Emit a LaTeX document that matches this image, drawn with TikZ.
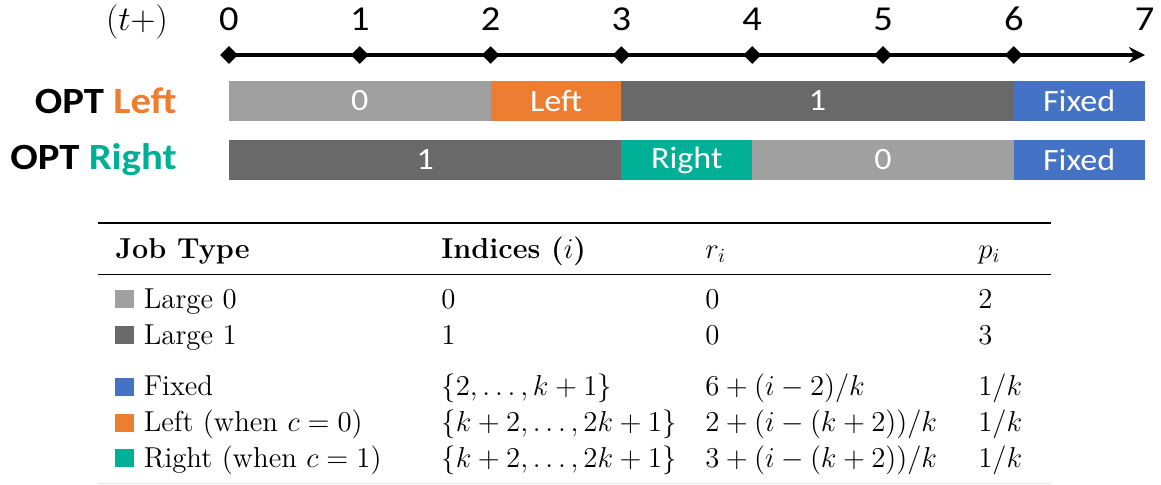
\documentclass[tikz,border=0pt]{standalone}
\usepackage{fontspec}
\usepackage{graphicx}
\usepackage{xcolor}
\usepackage{amsmath}
\usetikzlibrary{shapes.geometric,arrows.meta}
\newfontfamily\calibri{Carlito}
\newcommand{\wide}[1]{\scalebox{1.1}[1]{#1}}
\definecolor{lzero}{HTML}{A0A0A0}
\definecolor{lone}{HTML}{696969}
\definecolor{fixedc}{HTML}{4472C4}
\definecolor{leftc}{HTML}{ED7D31}
\definecolor{rightc}{HTML}{00B096}

\begin{document}
\begin{tikzpicture}[x=0.5pt, y=-0.5pt,
  bar/.style={rectangle, inner sep=0pt, minimum height=20pt, text=white, font=\calibri\fontsize{15.5}{18}\selectfont},
  tick/.style={diamond, fill=black, inner sep=0pt, minimum size=9pt},
  num/.style={anchor=base, inner sep=0pt, font=\calibri\fontsize{17.5}{20}\selectfont},
  opt/.style={anchor=east, inner sep=0pt, font=\calibri\bfseries\fontsize{18.5}{22}\selectfont},
  cell/.style={anchor=base west, inner sep=0pt, font=\fontsize{14.4}{17}\selectfont}]
  \useasboundingbox (0,0) rectangle (1161,484);

  % time axis
  \foreach \t in {0,...,6}
    \node[tick] (t\t) at ({229+130.8*\t},55) {};
  \coordinate (tend) at (1145,55);
  \draw[line width=2pt, -{Stealth[length=8pt,width=8pt]}] (t0.center) -- (tend);
  \foreach \t in {0,...,7}
    \node[num] (n\t) at ({229+130.8*\t},30) {\wide{\t}};
  \node[anchor=base, inner sep=0pt, font=\fontsize{17.28}{20}\selectfont] (tplus) at (137,30) {$(t+)$};

  % schedules
  \node[opt] (optl) at (177,101) {\wide{OPT \textcolor{leftc}{Left}}};
  \node[opt] (optr) at (177,160) {\wide{OPT \textcolor{rightc}{Right}}};

  \node[bar, fill=lzero, minimum width=130.8pt] (a0) at (359.8,101) {\wide{0}};
  \node[bar, fill=leftc, minimum width=65.4pt] (aleft) at (556,101) {\wide{Left}};
  \node[bar, fill=lone, minimum width=196.2pt] (a1) at (817.6,101) {\wide{1}};
  \node[bar, fill=fixedc, minimum width=65.4pt] (afix) at (1079.2,101) {\wide{Fixed}};

  \node[bar, fill=lone, minimum width=196.2pt] (b1) at (425.2,160) {\wide{1}};
  \node[bar, fill=rightc, minimum width=65.4pt] (bright) at (686.8,160) {\wide{Right}};
  \node[bar, fill=lzero, minimum width=130.8pt] (b0) at (883,160) {\wide{0}};
  \node[bar, fill=fixedc, minimum width=65.4pt] (bfix) at (1079.2,160) {\wide{Fixed}};

  % table
  \draw[line width=1pt] (98,223) -- (1051,223);
  \draw[line width=0.65pt] (98,274.5) -- (1051,274.5);
  \draw[line width=0.5pt, black!10] (98,483) -- (1051,483);

  \node[cell] (htype) at (115,258) {\textbf{Job Type}};
  \node[cell] (hidx) at (441,258) {\textbf{Indices ($i$)}};
  \node[cell] (hr) at (705,258) {$r_i$};
  \node[cell] (hp) at (978,258) {$p_i$};

  \node[cell] (l0type) at (115,308) {\textcolor{lzero}{\rule{9.5pt}{9pt}} Large 0};
  \node[cell] (l0idx) at (441,308) {$0$};
  \node[cell] (l0r) at (705,308) {$0$};
  \node[cell] (l0p) at (978,308) {$2$};

  \node[cell] (l1type) at (115,344) {\textcolor{lone}{\rule{9.5pt}{9pt}} Large 1};
  \node[cell] (l1idx) at (441,344) {$1$};
  \node[cell] (l1r) at (705,344) {$0$};
  \node[cell] (l1p) at (978,344) {$3$};

  \node[cell] (ftype) at (115,395.5) {\textcolor{fixedc}{\rule{9.5pt}{9pt}} Fixed};
  \node[cell] (fidx) at (441,395.5) {$\{2,\ldots,k+1\}$};
  \node[cell] (fr) at (705,395.5) {$6+(i-2)/k$};
  \node[cell] (fp) at (978,395.5) {$1/k$};

  \node[cell] (ltype) at (115,431.5) {\textcolor{leftc}{\rule{9.5pt}{9pt}} Left (when $c=0$)};
  \node[cell] (lidx) at (441,431.5) {$\{k+2,\ldots,2k+1\}$};
  \node[cell] (lr) at (705,431.5) {$2+(i-(k+2))/k$};
  \node[cell] (lp) at (978,431.5) {$1/k$};

  \node[cell] (rtype) at (115,467) {\textcolor{rightc}{\rule{9.5pt}{9pt}} Right (when $c=1$)};
  \node[cell] (ridx) at (441,467) {$\{k+2,\ldots,2k+1\}$};
  \node[cell] (rr) at (705,467) {$3+(i-(k+2))/k$};
  \node[cell] (rp) at (978,467) {$1/k$};
\end{tikzpicture}
\end{document}
